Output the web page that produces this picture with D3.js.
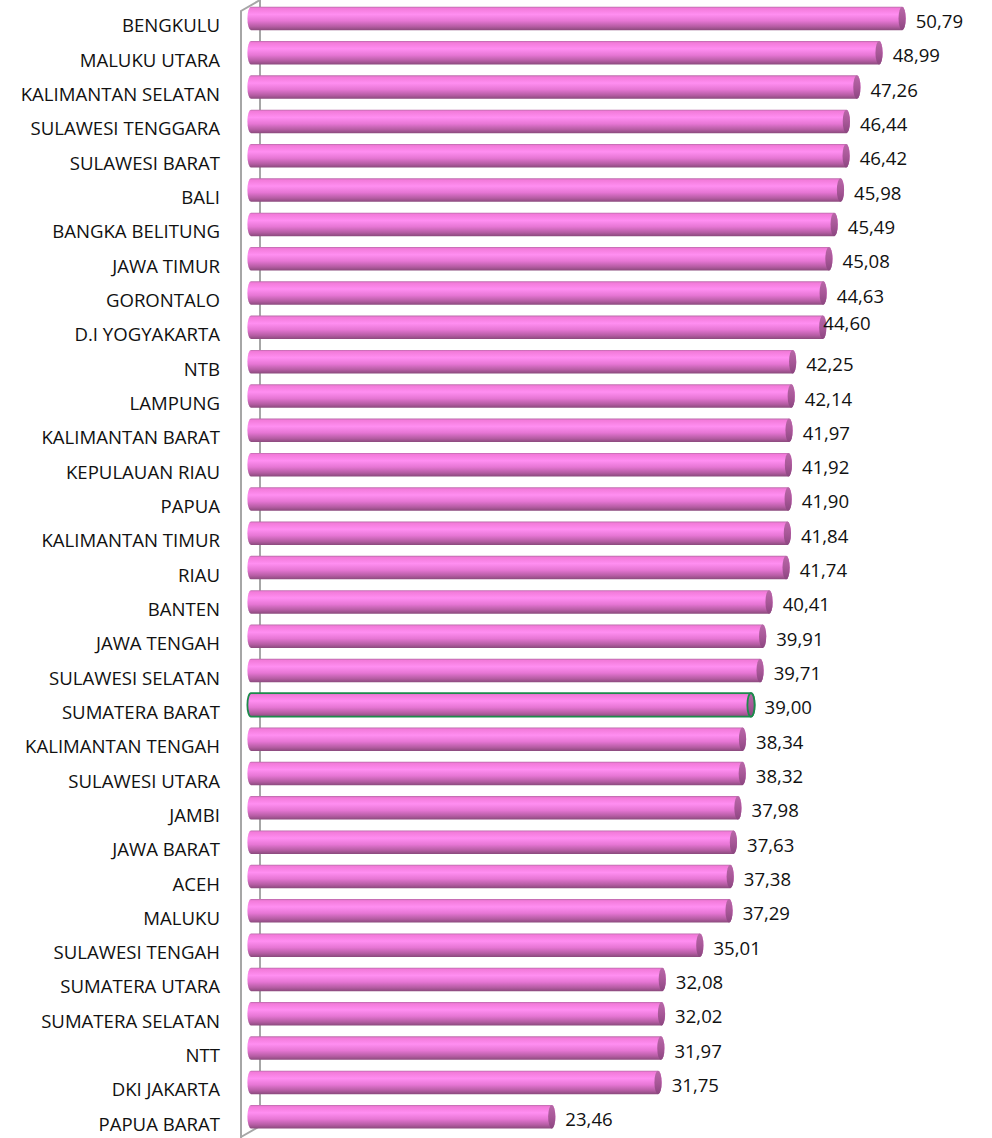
<!DOCTYPE html>
<html>
<head>
    <meta charset="UTF-8">
    <title>Provinsi</title>
    <script src="https://d3js.org/d3.v7.min.js"></script>
    <style>
        body { margin: 0; background: #fff; }
        text { font-family: "Open Sans", sans-serif; fill: #111; }
    </style>
</head>
<body>
    <svg id="chart"></svg>
    <script>
        const width = 992;
        const height = 1138;

        const provinces = ["BENGKULU", "MALUKU UTARA", "KALIMANTAN SELATAN", "SULAWESI TENGGARA",
            "SULAWESI BARAT", "BALI", "BANGKA BELITUNG", "JAWA TIMUR", "GORONTALO", "D.I YOGYAKARTA",
            "NTB", "LAMPUNG", "KALIMANTAN BARAT", "KEPULAUAN RIAU", "PAPUA", "KALIMANTAN TIMUR", "RIAU",
            "BANTEN", "JAWA TENGAH", "SULAWESI SELATAN", "SUMATERA BARAT", "KALIMANTAN TENGAH",
            "SULAWESI UTARA", "JAMBI", "JAWA BARAT", "ACEH", "MALUKU", "SULAWESI TENGAH",
            "SUMATERA UTARA", "SUMATERA SELATAN", "NTT", "DKI JAKARTA", "PAPUA BARAT"];
        const values = [50.79, 48.99, 47.26, 46.44, 46.42, 45.98, 45.49, 45.08, 44.63, 44.60,
            42.25, 42.14, 41.97, 41.92, 41.90, 41.84, 41.74, 40.41, 39.91, 39.71, 39.00, 38.34,
            38.32, 37.98, 37.63, 37.38, 37.29, 35.01, 32.08, 32.02, 31.97, 31.75, 23.46];
        const highlighted = "SUMATERA BARAT";

        const data = provinces.map((p, i) => ({ name: p, value: values[i] }));

        const svg = d3.select("#chart")
            .attr("width", width)
            .attr("height", height);

        const x = d3.scaleLinear().domain([0, 56]).range([251, 251 + 56 * 12.82]);
        const y = d3.scaleBand().domain(provinces)
            .range([1.3, 1133.9]).paddingInner(0.315).paddingOuter(0.1575);
        const bw = y.bandwidth();
        const rx = 3.6;

        const defs = svg.append("defs");
        const grad = defs.append("linearGradient").attr("id", "body")
            .attr("x1", 0).attr("y1", 0).attr("x2", 0).attr("y2", 1);
        [[0, "#b86aa8"], [0.07, "#f27ad9"], [0.33, "#ff8ef1"], [0.6, "#e676d4"],
         [0.85, "#b45ca2"], [1, "#8a4a7c"]].forEach(s =>
            grad.append("stop").attr("offset", s[0]).attr("stop-color", s[1]));
        const capGrad = defs.append("linearGradient").attr("id", "cap")
            .attr("x1", 0).attr("y1", 0).attr("x2", 0).attr("y2", 1);
        [[0, "#b868a8"], [0.5, "#a85898"], [1, "#8c4680"]].forEach(s =>
            capGrad.append("stop").attr("offset", s[0]).attr("stop-color", s[1]));

        // depth wall of the category axis
        const wall = svg.append("g").attr("fill", "none").attr("stroke", "#a6a6a6").attr("stroke-width", 2);
        wall.append("path").attr("d", "M260,0 L260,1126 L241,1137");
        wall.append("path").attr("d", "M260,0 L241,11 L241,1138");

        const bars = svg.append("g").selectAll("g")
            .data(data)
            .join("g");

        bars.append("path")
            .attr("d", d => {
                const x0 = x(0), x1 = x(d.value), y0 = y(d.name), y1 = y0 + bw;
                return `M${x0},${y0} L${x1},${y0} A${rx},${bw / 2} 0 0 1 ${x1},${y1} L${x0},${y1} A${rx},${bw / 2} 0 0 1 ${x0},${y0} Z`;
            })
            .attr("fill", "url(#body)")
            .attr("stroke", d => d.name === highlighted ? "#1d8a4c" : "none")
            .attr("stroke-width", 1.8);

        bars.append("ellipse")
            .attr("cx", d => x(d.value))
            .attr("cy", d => y(d.name) + bw / 2)
            .attr("rx", rx)
            .attr("ry", bw / 2)
            .attr("fill", "url(#cap)")
            .attr("stroke", d => d.name === highlighted ? "#1d8a4c" : "none")
            .attr("stroke-width", 1.8);

        // category labels
        svg.append("g").selectAll("text")
            .data(data)
            .join("text")
            .attr("x", 220)
            .attr("y", d => y(d.name) + bw / 2 + 7.5)
            .attr("dy", "0.35em")
            .attr("text-anchor", "end")
            .style("font-size", "18.6px")
            .text(d => d.name);

        // value labels (D.I YOGYAKARTA label was dragged onto the bar end)
        svg.append("g").selectAll("text")
            .data(data)
            .join("text")
            .attr("x", d => x(d.value) + rx + 10 - (d.name === "D.I YOGYAKARTA" ? 13 : 0))
            .attr("y", d => y(d.name) + bw / 2 + (d.name === "D.I YOGYAKARTA" ? -4 : 3))
            .attr("dy", "0.35em")
            .style("font-size", "18.6px")
            .text(d => d3.format(".2f")(d.value).replace(".", ","));
    </script>
</body>
</html>
